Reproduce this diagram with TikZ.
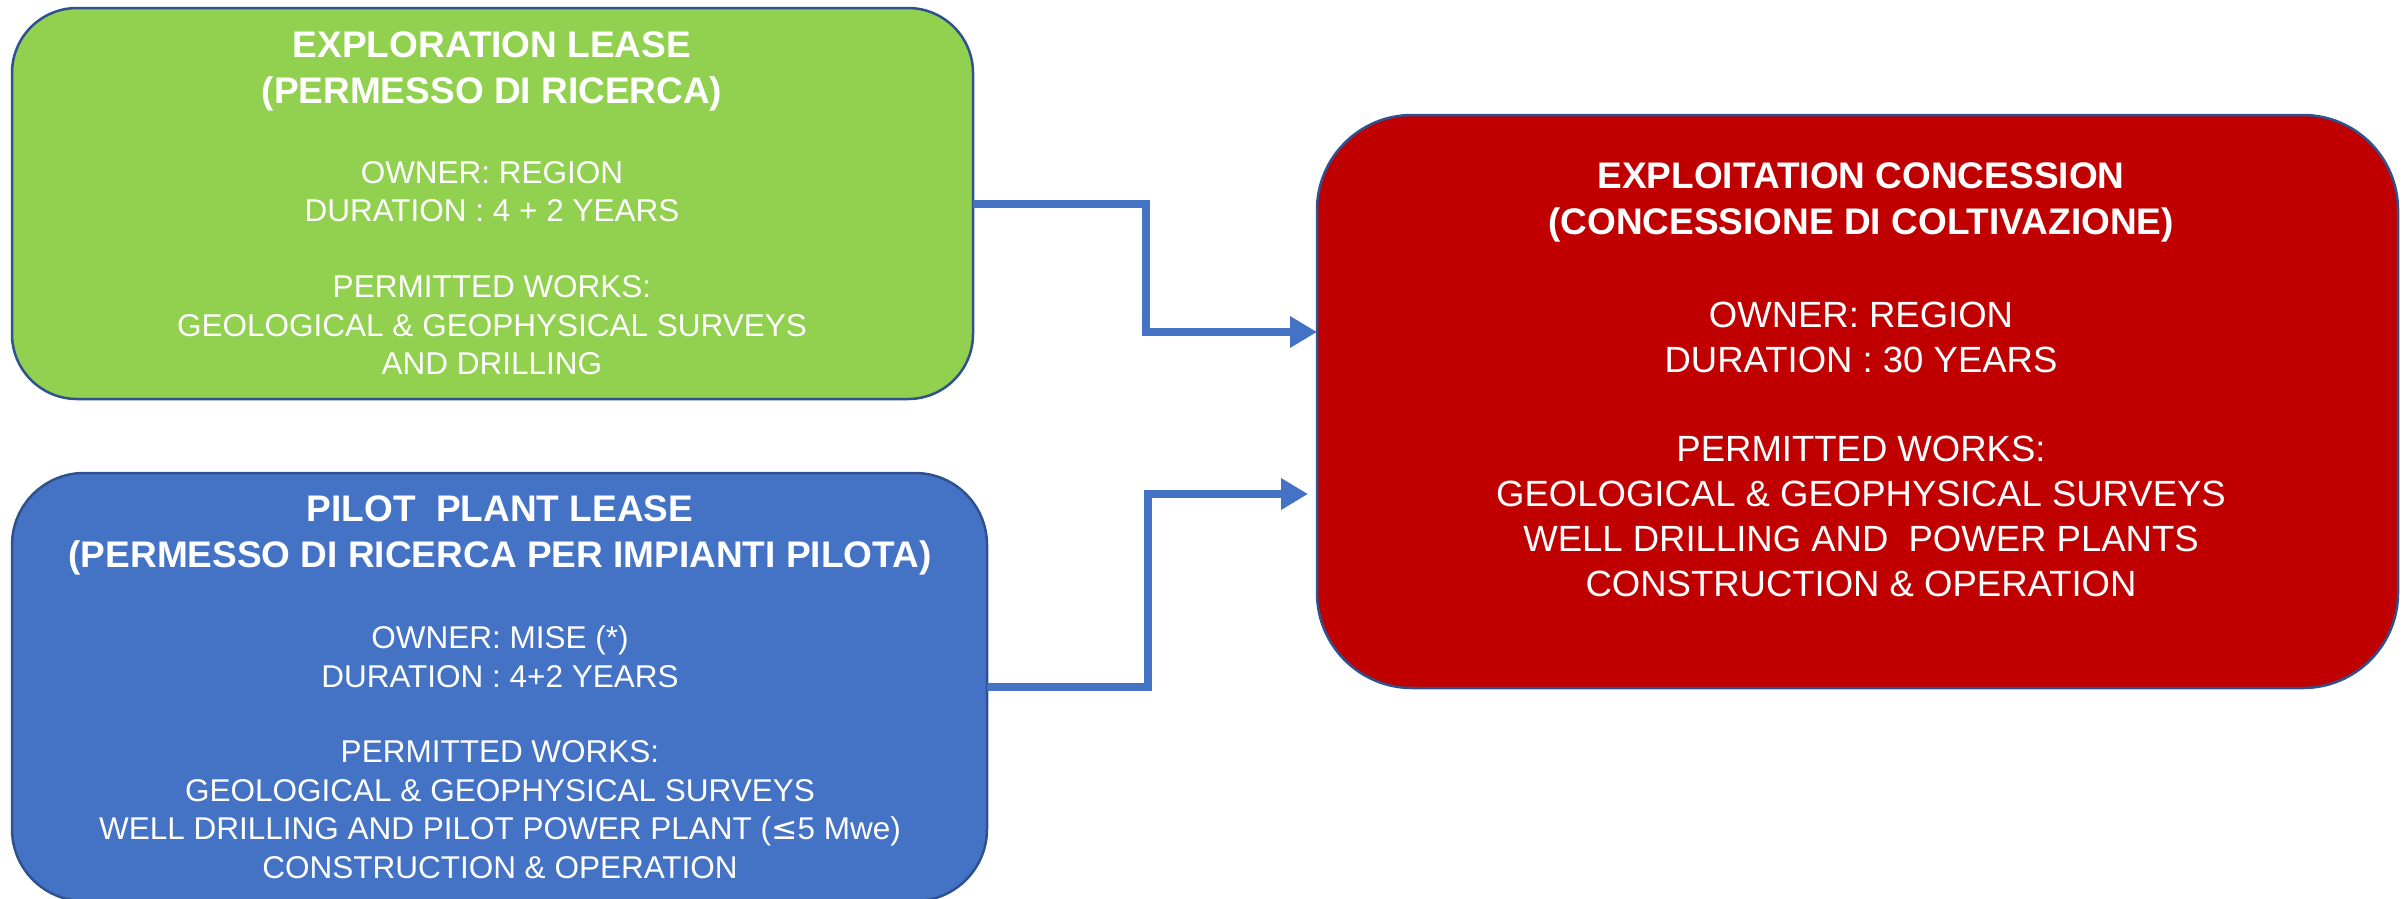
\documentclass[tikz,border=0pt]{standalone}
\usepackage{fontspec}
\setmainfont{Liberation Sans}
\usetikzlibrary{arrows.meta}
\definecolor{cgreen}{HTML}{92D050}
\definecolor{cblue}{HTML}{4472C4}
\definecolor{cred}{HTML}{C00000}
\definecolor{cedge}{HTML}{2F528F}
\begin{document}
\begin{tikzpicture}[x=1pt,y=-1pt,
  box/.style={draw=cedge, line width=2.5pt, inner sep=0pt, outer sep=0pt},
  ttl/.style={text=white, font=\fontsize{37}{46}\selectfont\bfseries, align=center, inner sep=0pt},
  bodytxt/.style={text=white, font=\fontsize{31.5}{38.5}\selectfont, align=center, inner sep=0pt},
  bigtxt/.style={text=white, font=\fontsize{36.5}{45}\selectfont, align=center, inner sep=0pt},
  conn/.style={draw=cblue, line width=8pt, -{Triangle[length=27pt,width=30pt]}}]
\useasboundingbox[fill=white] (0,0) rectangle (2407,898);

% boxes
\node[box, fill=cgreen, rounded corners=65pt, minimum width=961pt, minimum height=391pt] (green) at (492.5,203.5) {};
\node[box, fill=cblue, rounded corners=72pt, minimum width=975pt, minimum height=428pt] (blue) at (499.5,687) {};
\node[box, fill=cred, rounded corners=95pt, minimum width=1081pt, minimum height=573pt] (red) at (1857.5,401.5) {};

% green texts
\node[ttl] (gt) at (492,71.5) {EXPLORATION LEASE\\(PERMESSO DI RICERCA)};
\node[bodytxt] (go) at (492,191.5) {OWNER: REGION\\DURATION : 4 + 2 YEARS};
\node[bodytxt] (gw) at (492,325.5) {PERMITTED WORKS:\\GEOLOGICAL \& GEOPHYSICAL SURVEYS\\AND DRILLING};

% blue texts
\node[ttl] (bt) at (500,535) {PILOT\ \ PLANT LEASE\\(PERMESSO DI RICERCA PER IMPIANTI PILOTA)};
\node[bodytxt] (bo) at (500,656.5) {OWNER: MISE (*)\\DURATION : 4+2 YEARS};
\node[bodytxt] (bw) at (500,809.5) {PERMITTED WORKS:\\GEOLOGICAL \& GEOPHYSICAL SURVEYS\\WELL DRILLING AND PILOT POWER PLANT ({\fontspec{DejaVu Sans}≤}5 Mwe)\\CONSTRUCTION \& OPERATION};

% red texts
\node[ttl] (rt) at (1861,202) {EXPLOITATION CONCESSION\\(CONCESSIONE DI COLTIVAZIONE)};
\node[bigtxt] (ro) at (1861,337) {OWNER: REGION\\DURATION : 30 YEARS};
\node[bigtxt] (rw) at (1861,516.5) {PERMITTED WORKS:\\GEOLOGICAL \& GEOPHYSICAL SURVEYS\\WELL DRILLING AND\ \ POWER PLANTS\\CONSTRUCTION \& OPERATION};

% connectors
\coordinate (k1) at (1146,332);
\draw[conn] (green.east) -| (k1) -- (k1 -| red.west);
\coordinate (k2) at (1148,494);
\coordinate (e2) at (1308,494);
\draw[conn] (blue.east) -| (k2) -- (e2);
\end{tikzpicture}
\end{document}
